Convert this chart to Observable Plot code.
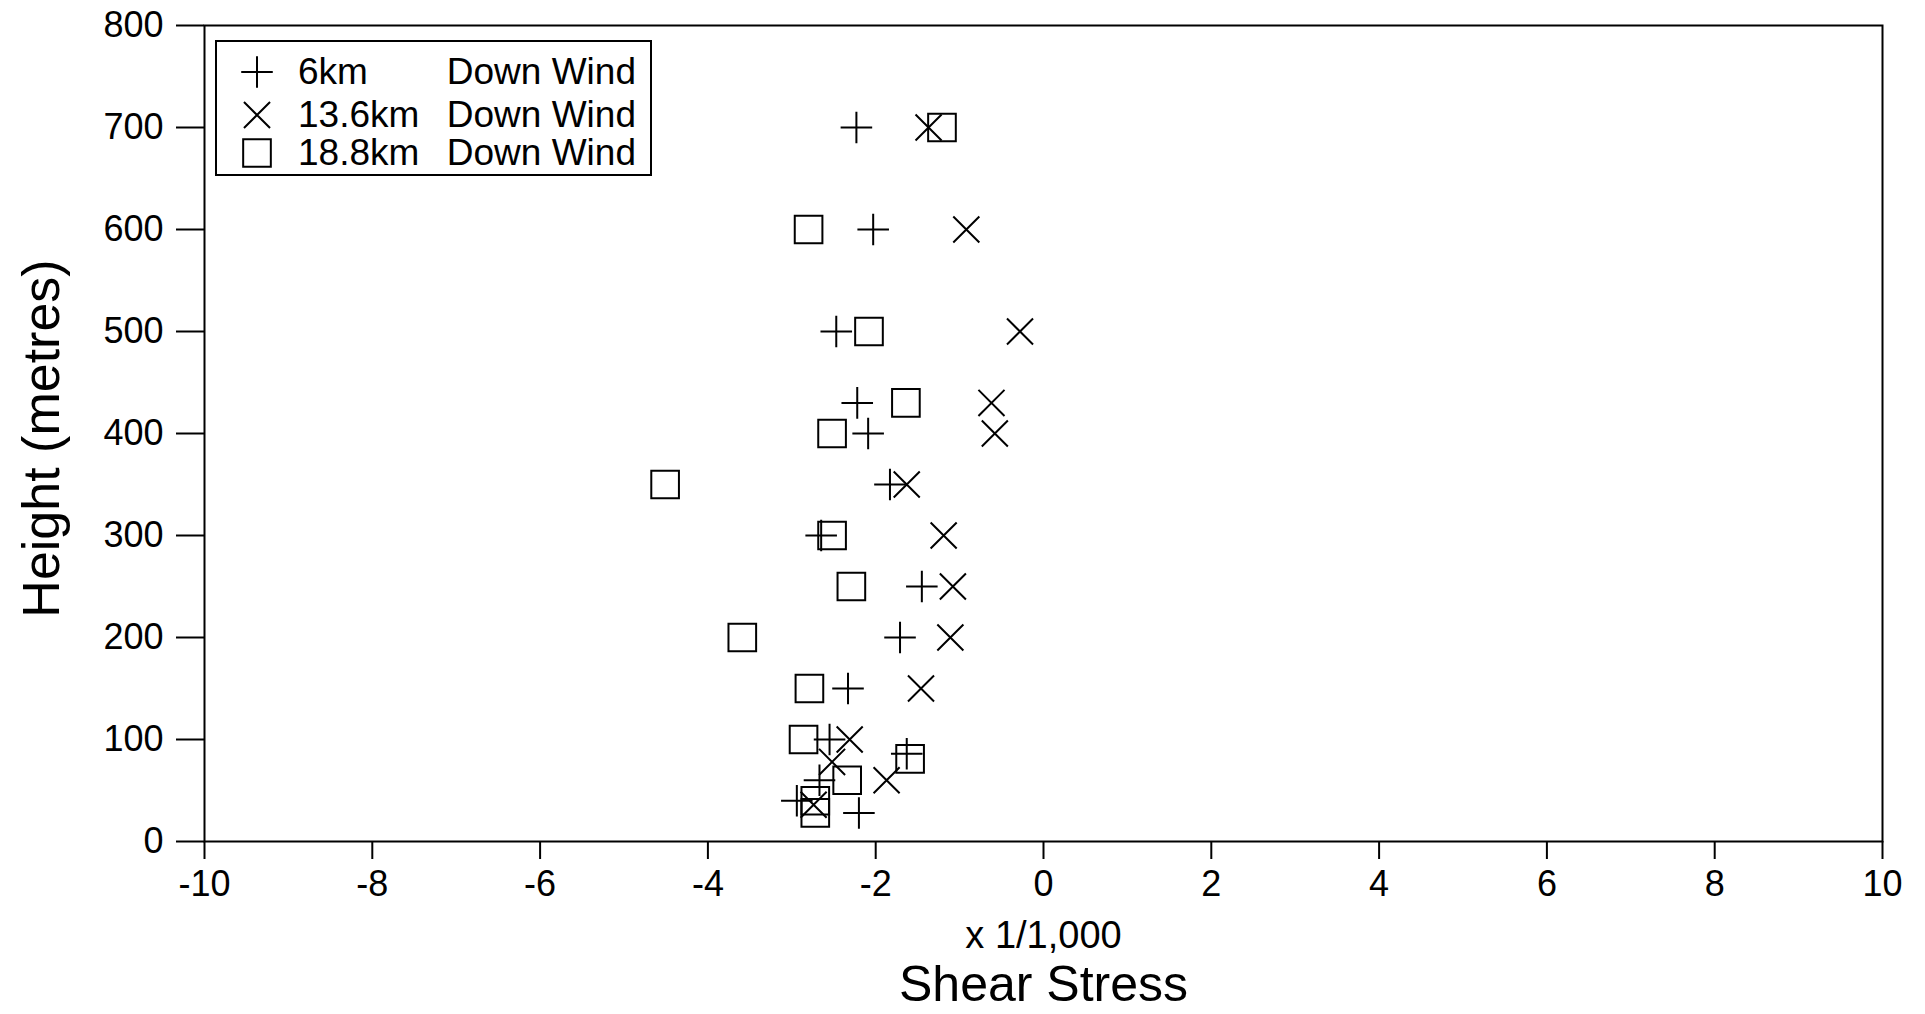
<!DOCTYPE html>
<html>
<head>
<meta charset="utf-8">
<script src="https://cdn.jsdelivr.net/npm/d3@7"></script>
<script src="https://cdn.jsdelivr.net/npm/@observablehq/plot@0.6"></script>
<style>
  body { margin: 0; background: #fff; }
  #wrap { position: relative; width: 1925px; height: 1014px; }
  #legend { position: absolute; left: 215px; top: 40px; width: 437px; height: 136px;
    border: 2px solid #000; box-sizing: border-box; background: #fff;
    font-family: "Liberation Sans", Arial, sans-serif; font-size: 37px; color: #000; }
  #legend .row { position: absolute; left: 0; width: 100%; height: 40px; }
  #legend svg { position: absolute; left: 20px; top: 0px; }
  #legend .name { position: absolute; left: 81px; top: 0; line-height: 40px; }
  #legend .tail { position: absolute; right: 14px; top: 0; line-height: 40px; }
</style>
</head>
<body>
<div id="wrap"></div>
<script>
// ---- data ----
const seriesNames = ["6km", "13.6km", "18.8km"];
const seriesSuffix = "Down Wind";

// 6 km down wind (+)
const shear6 = [-2.23, -2.03, -2.47, -2.22, -2.09, -1.83, -2.65, -1.45, -1.71, -2.33, -2.55, -1.63, -2.67, -2.94, -2.20];
const height6 = [700, 600, 500, 430, 400, 350, 300, 250, 200, 150, 100, 86, 60, 40, 28];

// 13.6 km down wind (x)
const shear136 = [-1.37, -0.92, -0.28, -0.62, -0.58, -1.63, -1.19, -1.08, -1.11, -1.46, -2.31, -2.52, -1.87, -2.74];
const height136 = [700, 600, 500, 430, 400, 350, 300, 250, 200, 150, 100, 78, 60, 36];

// 18.8 km down wind (square)
const shear188 = [-1.21, -2.80, -2.08, -1.64, -2.52, -4.51, -2.52, -2.29, -3.59, -2.79, -2.86, -1.59, -2.34, -2.72, -2.72];
const height188 = [700, 600, 500, 430, 400, 350, 300, 250, 200, 150, 100, 81, 60, 40, 28];

const xTicks = [-10, -8, -6, -4, -2, 0, 2, 4, 6, 8, 10];
const yTicks = [0, 100, 200, 300, 400, 500, 600, 700, 800];
const xUnitLabel = "x 1/1,000";
const xTitle = "Shear Stress";
const yTitle = "Height (metres)";

// ---- build tables ----
const toRows = (xs, ys) => xs.map((v, i) => ({shear: v, height: ys[i]}));
const rows6 = toRows(shear6, height6);
const rows136 = toRows(shear136, height136);
const rows188 = toRows(shear188, height188);

const font = "'Liberation Sans', Arial, Helvetica, sans-serif";
const rPlus = 10.2, rTimes = 11.9, rSquare = 15.6;

const chart = Plot.plot({
  width: 1925,
  height: 1014,
  marginLeft: 204,
  marginRight: 43,
  marginTop: 25,
  marginBottom: 173,
  style: {fontFamily: font, color: "#000", background: "#fff", overflow: "visible"},
  x: {domain: [-10, 10]},
  y: {domain: [0, 800]},
  marks: [
    Plot.frame({stroke: "#000", strokeWidth: 2}),
    Plot.axisX(xTicks, {anchor: "bottom", tickSize: 18, tickPadding: 11, fontSize: 36,
      strokeWidth: 2, tickFormat: d => String(d), label: null}),
    Plot.axisY(yTicks, {anchor: "left", tickSize: 28, tickPadding: 13, fontSize: 36,
      strokeWidth: 2, tickFormat: d => String(d), label: null}),
    Plot.text([xUnitLabel], {text: d => d, frameAnchor: "bottom", textAnchor: "middle", lineAnchor: "bottom",
      dy: 106, fontSize: 38}),
    Plot.text([xTitle], {text: d => d, frameAnchor: "bottom", textAnchor: "middle", lineAnchor: "bottom",
      dy: 159, fontSize: 50}),
    Plot.text([yTitle], {text: d => d, frameAnchor: "left", textAnchor: "middle", lineAnchor: "bottom",
      rotate: -90, dx: -146, dy: 5, fontSize: 52}),
    Plot.dot(rows6, {x: "shear", y: "height", symbol: "plus", r: rPlus, stroke: "#000", strokeWidth: 2, fill: "none"}),
    Plot.dot(rows136, {x: "shear", y: "height", symbol: "times", r: rTimes, stroke: "#000", strokeWidth: 2, fill: "none"}),
    Plot.dot(rows188, {x: "shear", y: "height", symbol: "square", r: rSquare, stroke: "#000", strokeWidth: 2, fill: "none"})
  ]
});

const wrap = document.getElementById("wrap");
wrap.appendChild(chart);

// ---- legend (HTML overlay, symbols drawn with d3 like Plot's) ----
const legend = document.createElement("div");
legend.id = "legend";
const symbols = [
  {type: d3.symbolPlus, size: Math.PI * rPlus * rPlus},
  {type: d3.symbolTimes, size: Math.PI * rTimes * rTimes},
  {type: d3.symbolSquare, size: Math.PI * rSquare * rSquare}
];
const rowTops = [10, 53, 91];
seriesNames.forEach((name, i) => {
  const row = document.createElement("div");
  row.className = "row";
  row.style.top = rowTops[i] + "px";
  const svg = d3.create("svg").attr("width", 40).attr("height", 40);
  svg.append("path")
    .attr("transform", "translate(20,20)")
    .attr("d", d3.symbol(symbols[i].type, symbols[i].size)())
    .attr("fill", "none").attr("stroke", "#000").attr("stroke-width", 2);
  row.appendChild(svg.node());
  const nm = document.createElement("span");
  nm.className = "name";
  nm.textContent = name;
  row.appendChild(nm);
  const tl = document.createElement("span");
  tl.className = "tail";
  tl.textContent = seriesSuffix;
  row.appendChild(tl);
  legend.appendChild(row);
});
wrap.appendChild(legend);
</script>
</body>
</html>
